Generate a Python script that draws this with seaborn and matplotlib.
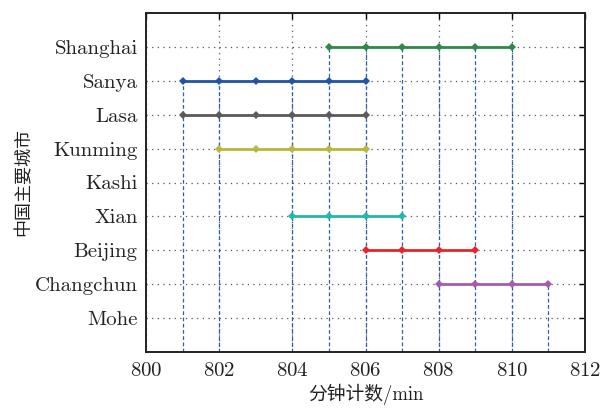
import numpy as np
import pandas as pd
import matplotlib
matplotlib.use("Agg")
import matplotlib.pyplot as plt
import seaborn as sns

# ---- data ----
cities = ["Mohe", "Changchun", "Beijing", "Xian", "Kashi", "Kunming", "Lasa", "Sanya", "Shanghai"]
shanghai_min = [805, 806, 807, 808, 809, 810]
sanya_min = [801, 802, 803, 804, 805, 806]
lasa_min = [801, 802, 803, 804, 805, 806]
kunming_min = [802, 803, 804, 805, 806]
xian_min = [804, 805, 806, 807]
beijing_min = [806, 807, 808, 809]
changchun_min = [808, 809, 810, 811]
vline_x = [801, 802, 804, 805, 806, 807, 808, 809, 810, 811]
vline_top = ["Sanya", "Sanya", "Sanya", "Shanghai", "Shanghai", "Shanghai",
             "Shanghai", "Shanghai", "Shanghai", "Changchun"]
xticks = [800, 802, 804, 806, 808, 810, 812]
xlabel = "分钟计数/min"
ylabel = "中国主要城市"

series = {
    "Shanghai": shanghai_min,
    "Sanya": sanya_min,
    "Lasa": lasa_min,
    "Kunming": kunming_min,
    "Xian": xian_min,
    "Beijing": beijing_min,
    "Changchun": changchun_min,
}
colors = {
    "Shanghai": "#2f8a4a",
    "Sanya": "#1f54a6",
    "Lasa": "#5a5a5a",
    "Kunming": "#b8b83a",
    "Xian": "#22b8b0",
    "Beijing": "#e8242a",
    "Changchun": "#a65bb0",
}

pos = {c: i + 1 for i, c in enumerate(cities)}
rows = []
for c, mins in series.items():
    for m in mins:
        rows.append({"city": c, "minute": m, "pos": pos[c]})
df = pd.DataFrame(rows)

sns.set_style("white")
plt.rcParams["font.family"] = ["cmr10", "Noto Sans CJK SC"]
plt.rcParams["axes.formatter.use_mathtext"] = True
plt.rcParams["mathtext.fontset"] = "cm"

fig = plt.figure(figsize=(6.01, 4.09), dpi=100)
ax = fig.add_axes([146 / 601, 1 - 352 / 409, (585 - 146) / 601, (352 - 13) / 409])

ax.set_xlim(800, 812)
ax.set_ylim(0, 10)

# grid
ax.set_xticks(xticks)
ax.set_yticks([pos[c] for c in cities])
ax.grid(True, linestyle=(0, (1, 3.5)), color="#444444", linewidth=0.9, alpha=0.9)
ax.set_axisbelow(True)

# vertical dashed drop lines
ax.vlines(vline_x, 0, [pos[c] for c in vline_top], colors="#2b5fb0",
          linestyles=(0, (3, 2)), linewidth=0.9, zorder=2)

sns.lineplot(data=df, x="minute", y="pos", hue="city", units="city", estimator=None,
             palette=colors, marker="D", markersize=4.5, markeredgewidth=0,
             linewidth=2, legend=False, ax=ax, zorder=3, sort=True)

ax.set_yticklabels(cities)
ax.tick_params(axis="both", direction="in", length=4, width=1, top=True, right=True,
               labelsize=15, colors="black")
ax.tick_params(axis="x", pad=7)
ax.tick_params(axis="y", pad=6)
for lab in ax.get_xticklabels() + ax.get_yticklabels():
    lab.set_color("#222222")

for s in ax.spines.values():
    s.set_visible(True)
    s.set_color("#222222")
    s.set_linewidth(1.4)

ax.set_xlabel(xlabel, fontsize=13.5, color="#222222", labelpad=3)
ax.set_ylabel(ylabel, fontsize=13, color="#222222", labelpad=2)

fig.savefig("out.png", dpi=100)
